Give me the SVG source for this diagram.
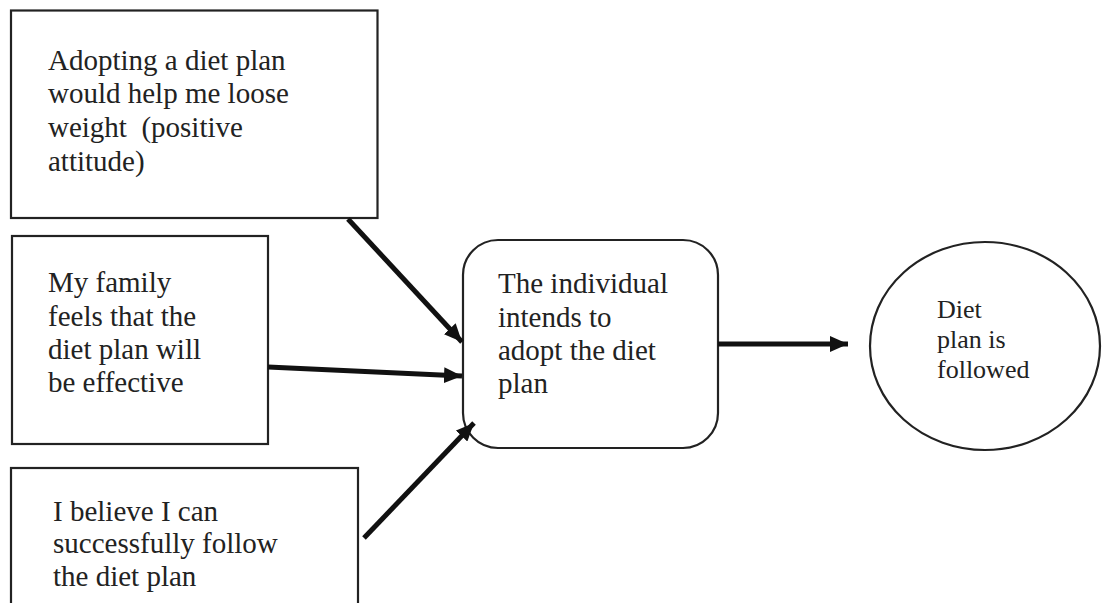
<svg xmlns="http://www.w3.org/2000/svg" width="1109" height="603" viewBox="0 0 1109 603">
<style>
.box{fill:#fff;stroke:#222;stroke-width:2.2}
.t{font-family:"Liberation Serif","Times New Roman",serif;font-size:29px;fill:#222}
.ts{font-family:"Liberation Serif","Times New Roman",serif;font-size:26px;fill:#222}
.c{stroke:#111;stroke-width:5;fill:none}
</style>
<defs>
<marker id="ah" markerUnits="userSpaceOnUse" markerWidth="20" markerHeight="16" refX="18" refY="8" orient="auto">
<path d="M0,0 L18,8 L0,16 z" fill="#111"/>
</marker>
</defs>
<g id="node-attitude">
<rect class="box" x="11" y="10.5" width="366.5" height="207.5"/>
<text class="t" x="48"><tspan x="48" y="70">Adopting a diet plan</tspan><tspan x="48" y="103">would help me loose</tspan><tspan x="48" y="137">weight&#160; (positive</tspan><tspan x="48" y="171">attitude)</tspan></text>
</g>
<g id="node-family">
<rect class="box" x="12" y="236" width="256" height="208"/>
<text class="t"><tspan x="48" y="292">My family</tspan><tspan x="48" y="326">feels that the</tspan><tspan x="48" y="359">diet plan will</tspan><tspan x="48" y="392">be effective</tspan></text>
</g>
<g id="node-belief">
<rect class="box" x="11" y="468" width="347" height="150"/>
<text class="t"><tspan x="53" y="521">I believe I can</tspan><tspan x="53" y="553">successfully follow</tspan><tspan x="53" y="586">the diet plan</tspan></text>
</g>
<g id="node-intention">
<rect class="box" x="463" y="240" width="255" height="208" rx="35" ry="35"/>
<text class="t"><tspan x="498" y="293">The individual</tspan><tspan x="498" y="327">intends to</tspan><tspan x="498" y="360">adopt the diet</tspan><tspan x="498" y="393">plan</tspan></text>
</g>
<g id="node-behaviour">
<ellipse class="box" cx="985" cy="346" rx="115" ry="104"/>
<text class="ts"><tspan x="937" y="318">Diet</tspan><tspan x="937" y="348">plan is</tspan><tspan x="937" y="378">followed</tspan></text>
</g>
<g id="connectors">
<line class="c" x1="348" y1="219" x2="462" y2="342" marker-end="url(#ah)"/>
<line class="c" x1="268" y1="367" x2="462" y2="376" marker-end="url(#ah)"/>
<line class="c" x1="364" y1="538" x2="474" y2="423" marker-end="url(#ah)"/>
<line class="c" x1="718" y1="344" x2="848" y2="344" marker-end="url(#ah)"/>
</g>
</svg>
